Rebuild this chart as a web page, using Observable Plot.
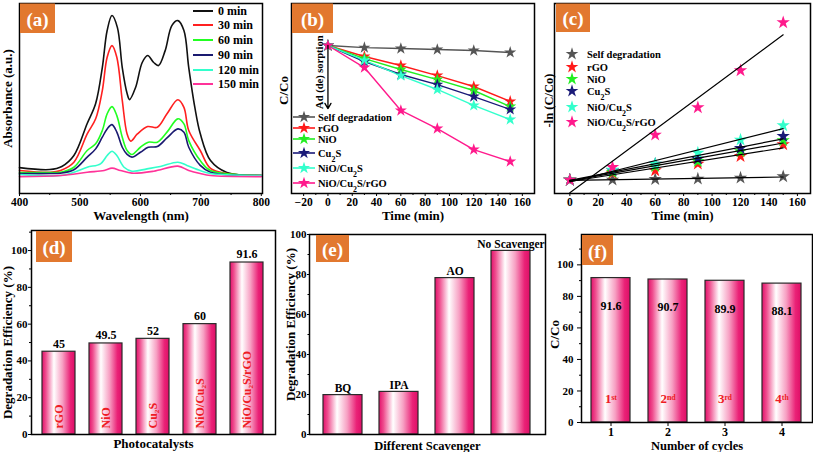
<!DOCTYPE html>
<html><head><meta charset="utf-8">
<script src="https://cdn.jsdelivr.net/npm/d3@7"></script>
<script src="https://cdn.jsdelivr.net/npm/@observablehq/plot@0.6"></script>
<style>
html,body{margin:0;padding:0;background:#fff;}
#root{position:relative;width:813px;height:452px;overflow:hidden;background:#fff;}
.panel{position:absolute;}
</style></head><body>
<svg width="0" height="0" style="position:absolute">
<defs><linearGradient id="barGrad" x1="0" x2="1" y1="0" y2="0">
<stop offset="0" stop-color="#e3106b"/>
<stop offset="0.12" stop-color="#ef4f8f"/>
<stop offset="0.36" stop-color="#ffffff"/>
<stop offset="0.62" stop-color="#f7a0c3"/>
<stop offset="0.86" stop-color="#ea2277"/>
<stop offset="1" stop-color="#de0e66"/>
</linearGradient></defs></svg>
<div id="root"></div>
<script>
// ---------- DATA ----------
// (a) UV-vis spectra: [wavelength nm, absorbance a.u.]
const spectraTimes = ["0 min","30 min","60 min","90 min","120 min","150 min"];
const spectraColors = ["#111111","#ff2020","#22ff22","#1a1a70","#33ffcc","#ff3399"];
const spec0 = [[400,0.144],[450,0.133],[470,0.150],[490,0.211],[512,0.389],[526,0.50],[537,0.70],[545,0.906],[553,0.989],[562,0.922],[570,0.70],[578,0.556],[582,0.522],[592,0.589],[603,0.728],[612,0.767],[622,0.728],[630,0.711],[641,0.794],[652,0.933],[662,0.961],[672,0.906],[680,0.70],[690,0.48],[699,0.333],[716,0.183],[743,0.117],[800,0.10]];
const spec30 = [[400,0.128],[451,0.118],[468,0.128],[490,0.174],[512,0.331],[526,0.415],[537,0.572],[545,0.757],[553,0.822],[561,0.757],[570,0.517],[578,0.331],[584,0.291],[595,0.331],[612,0.372],[628,0.368],[644,0.443],[662,0.521],[672,0.479],[680,0.35],[699,0.239],[716,0.139],[743,0.111],[800,0.10]];
const spec60 = [[400,0.117],[451,0.117],[468,0.118],[490,0.146],[512,0.239],[526,0.276],[537,0.35],[545,0.443],[553,0.483],[561,0.433],[570,0.313],[578,0.239],[586,0.217],[600,0.257],[613,0.285],[628,0.285],[644,0.341],[662,0.415],[672,0.387],[680,0.294],[699,0.183],[716,0.128],[800,0.10]];
const spec90 = [[400,0.111],[451,0.111],[468,0.113],[490,0.132],[512,0.202],[526,0.248],[537,0.313],[545,0.359],[553,0.383],[561,0.341],[570,0.257],[578,0.217],[586,0.202],[600,0.229],[613,0.257],[628,0.261],[644,0.309],[662,0.359],[672,0.341],[680,0.257],[699,0.156],[716,0.118],[800,0.10]];
const spec120 = [[400,0.106],[468,0.10],[490,0.118],[512,0.146],[534,0.165],[545,0.211],[553,0.235],[561,0.211],[573,0.146],[586,0.124],[611,0.137],[633,0.15],[662,0.174],[677,0.156],[699,0.128],[716,0.111],[800,0.10]];
const spec150 = [[400,0.094],[468,0.10],[512,0.118],[540,0.128],[553,0.141],[567,0.128],[586,0.113],[622,0.124],[662,0.152],[680,0.128],[699,0.111],[716,0.10],[800,0.094]];
const specSeries = [spec0, spec30, spec60, spec90, spec120, spec150];
const wavelengthTicks = [400,500,600,700,800];

// (b), (c) kinetics
const kineticTimes = [0,30,60,90,120,150];
const catalysts = ["Self degradation","rGO","NiO","Cu2S","NiO/Cu2S","NiO/Cu2S/rGO"];
const catalystColors = ["#555555","#ff1a1a","#22ee22","#1a1a78","#33ffcc","#ff1a8c"];
const ccoSelf   = [1.0,0.986,0.980,0.973,0.966,0.953];
const ccoRGO    = [1.0,0.926,0.865,0.797,0.723,0.622];
const ccoNiO    = [1.0,0.912,0.838,0.770,0.696,0.588];
const ccoCu2S   = [1.0,0.892,0.804,0.736,0.655,0.568];
const ccoNiOCu2S = [1.0,0.899,0.797,0.703,0.595,0.500];
const ccoTernary = [1.0,0.851,0.561,0.439,0.297,0.216];
const lnSelf   = [0,0.002,0.008,0.012,0.022,0.035];
const lnRGO    = [0,0.068,0.095,0.162,0.238,0.355];
const lnNiO    = [0,0.078,0.138,0.188,0.285,0.395];
const lnCu2S   = [0,0.095,0.160,0.212,0.318,0.438];
const lnNiOCu2S = [0,0.102,0.162,0.272,0.402,0.545];
const lnTernary = [0,0.128,0.452,0.725,1.095,1.575];
const timeTicks = [-20,0,20,40,60,80,100,120,140,160];
const timeTicksC = [0,20,40,60,80,100,120,140,160];
const sorptionArrow = [{t:0, from:1.0, to:0.574, mid:0.82, label:"Ad (de) sorption"}];

// (d) efficiency
const effCatalysts = ["rGO","NiO","Cu₂S","NiO/Cu₂S","NiO/Cu₂S/rGO"];
const effValues = [45,49.5,52,60,93.5];
const effLabels = ["45","49.5","52","60","91.6"];
// (e) scavengers
const scavengers = ["BQ","IPA","AO","No Scavenger"];
const scavValues = [19.7,21.3,78.2,91.8];
// (f) cycles
const cycles = [1,2,3,4];
const cycleValues = [91.6,90.7,89.9,88.1];
const cycleOrdinals = ["1ˢᵗ","2ⁿᵈ","3ʳᵈ","4ᵗʰ"];
const pctTicks = [0,20,40,60,80,100];

// ---------- HELPERS ----------
const FONT = "'Liberation Serif','Times New Roman',serif";
const baseStyle = {fontFamily: FONT, fontWeight: "bold", fontSize: "12px", background: "none", overflow: "visible", color: "#000"};
const root = document.getElementById("root");
function place(plot, left, top) {
  const d = document.createElement("div");
  d.className = "panel"; d.style.left = left + "px"; d.style.top = top + "px";
  d.appendChild(plot); root.appendChild(d);
}
function badge(label, x, y, w, h) {
  return () => {
    const g = d3.create("svg:g");
    g.append("rect").attr("x", x).attr("y", y).attr("width", w).attr("height", h).attr("fill", "#e2782f");
    g.append("text").attr("x", x + w / 2).attr("y", y + h / 2 + 1).attr("text-anchor", "middle")
      .attr("dominant-baseline", "central").attr("fill", "#fff").attr("font-size", 19)
      .attr("font-weight", "bold").attr("font-family", FONT).text(label);
    return g.node();
  };
}
function richText(t, s) {
  s.split(/(Cu2)/).forEach(p => {
    if (p === "Cu2") { t.append("tspan").text("Cu"); t.append("tspan").attr("baseline-shift", "sub").attr("font-size", "75%").text("2"); }
    else if (p) t.append("tspan").text(p);
  });
}
function legend(labels, colors, o) {
  return () => {
    const g = d3.create("svg:g").attr("font-size", o.fontSize).attr("font-weight", "bold").attr("font-family", FONT).attr("text-anchor", "start");
    labels.forEach((lab, i) => {
      const y = o.ys[i];
      if (o.line) g.append("line").attr("x1", o.x0).attr("x2", o.x1).attr("y1", y).attr("y2", y).attr("stroke", colors[i]).attr("stroke-width", o.lw || 2);
      if (o.star) g.append("path").attr("transform", `translate(${o.starX},${y})`).attr("d", d3.symbol(d3.symbolStar, o.r * o.r * Math.PI)()).attr("fill", colors[i]);
      const t = g.append("text").attr("x", o.textX).attr("y", y).attr("dy", "0.35em").attr("text-anchor", "start");
      richText(t, lab);
    });
    return g.node();
  };
}
const frame = () => Plot.frame({stroke: "#000", strokeWidth: 1.5});
const xTitle = (s, dy, fs = 13) => Plot.text([s], {text: d => d, frameAnchor: "bottom", dy, lineAnchor: "middle", textAnchor: "middle", fontSize: fs});
const yTitle = (s, dx, fs = 13, dy = 0) => Plot.text([s], {text: d => d, frameAnchor: "left", dx, dy, rotate: -90, lineAnchor: "middle", textAnchor: "middle", fontSize: fs});

// ---------- (a) ----------
const specData = spectraTimes.flatMap((name, i) => specSeries[i].map(([wl, a]) => ({name, wl, a})));
place(Plot.plot({
  width: 270, height: 222, marginLeft: 19, marginRight: 8, marginTop: 3, marginBottom: 29,
  style: baseStyle,
  x: {domain: [400, 802]},
  y: {domain: [0, 1.056], axis: null},
  color: {domain: spectraTimes, range: spectraColors},
  marks: [
    Plot.line(specData, {x: "wl", y: "a", z: "name", stroke: "name", curve: "catmull-rom", strokeWidth: 1.6}),
    frame(),
    Plot.axisX({ticks: wavelengthTicks, tickSize: 3, tickPadding: 1, label: null, fontSize: 11.5}),
    Plot.axisX({ticks: [450,550,650,750], tickSize: 2, tickFormat: () => "", label: null}),
    xTitle("Wavelength (nm)", 22.5),
    yTitle("Absorbance (a.u.)", -12),
    legend(spectraTimes, spectraColors, {line: true, x0: 193, x1: 213, textX: 218, ys: [11,25,40,55,70,84], fontSize: 12}),
    badge("(a)", 20, 3.5, 35, 29.5)
  ]
}), 0, 0);

// ---------- (b) ----------
const ccoSeries = [ccoSelf, ccoRGO, ccoNiO, ccoCu2S, ccoNiOCu2S, ccoTernary];
const kinData = catalysts.flatMap((name, i) => kineticTimes.map((t, j) => ({name, t, c: ccoSeries[i][j]})));
place(Plot.plot({
  width: 270, height: 222, marginLeft: 21, marginRight: 6, marginTop: 3, marginBottom: 29,
  style: baseStyle,
  x: {domain: [-30, 170]},
  y: {domain: [0, 1.284], axis: null},
  color: {domain: catalysts, range: catalystColors},
  marks: [
    Plot.line(kinData, {x: "t", y: "c", z: "name", stroke: "name", strokeWidth: 1.4}),
    Plot.dot(kinData, {x: "t", y: "c", fill: "name", symbol: "star", r: 3.8}),
    Plot.arrow(sorptionArrow, {x1: "t", x2: "t", y1: "from", y2: "to", stroke: "#000", strokeWidth: 1.3, headLength: 7}),
    Plot.text(sorptionArrow, {x: "t", y: "mid", text: "label", rotate: -90, dx: -8, fontSize: 10.5}),
    frame(),
    Plot.axisX({ticks: timeTicks, tickSize: 3, tickPadding: 1, label: null, fontSize: 11.5}),
    Plot.axisX({ticks: [-10,10,30,50,70,90,110,130,150], tickSize: 2, tickFormat: () => "", label: null}),
    xTitle("Time (min)", 22.5),
    yTitle("C/Co", -8, 13, -8),
    legend(catalysts, catalystColors, {line: true, star: true, x0: 23, x1: 45, starX: 34, r: 3.8, textX: 48, lw: 1.6, ys: [117,128,139,153,168,183], fontSize: 10.5}),
    badge("(b)", 22, 3.5, 41, 29.5)
  ]
}), 270, 0);

// ---------- (c) ----------
const lnSeries = [lnSelf, lnRGO, lnNiO, lnCu2S, lnNiOCu2S, lnTernary];
const lnData = catalysts.flatMap((name, i) => kineticTimes.map((t, j) => ({name, t, v: lnSeries[i][j]})));
place(Plot.plot({
  width: 273, height: 222, marginLeft: 14, marginRight: 3, marginTop: 3, marginBottom: 29,
  style: baseStyle,
  x: {domain: [-10.8, 169.2]},
  y: {domain: [-0.135, 1.765], axis: null},
  color: {domain: catalysts, range: catalystColors},
  marks: [
    Plot.dot(lnData, {x: "t", y: "v", fill: "name", symbol: "star", r: 4.2}),
    Plot.linearRegressionY(lnData, {x: "t", y: "v", z: "name", stroke: "#000", strokeWidth: 1.2, ci: 0}),
    frame(),
    Plot.axisX({ticks: timeTicksC, tickSize: 3, tickPadding: 1, label: null, fontSize: 11.5}),
    Plot.axisX({ticks: [10,30,50,70,90,110,130,150], tickSize: 2, tickFormat: () => "", label: null}),
    xTitle("Time (min)", 22.5),
    yTitle("-ln (C/Co)", -6, 12.5, 2),
    legend(catalysts, catalystColors, {star: true, starX: 32, r: 4, textX: 47, ys: [54,67,79,91,107,122], fontSize: 10.5}),
    badge("(c)", 16, 3.5, 34, 28.5)
  ]
}), 540, 0);

// ---------- (d) ----------
const effData = effCatalysts.map((name, i) => ({name, value: effValues[i], label: effLabels[i]}));
place(Plot.plot({
  width: 280, height: 230, marginLeft: 31, marginRight: 5, marginTop: 8, marginBottom: 18,
  style: baseStyle,
  x: {type: "band", domain: effCatalysts, paddingInner: 0.29, paddingOuter: 0.19, axis: null},
  y: {domain: [0, 110.9], axis: null},
  marks: [
    Plot.barY(effData, {x: "name", y: "value", fill: "url(#barGrad)", stroke: "#2a2a2a", strokeWidth: 1.2}),
    Plot.text(effData, {x: "name", y: "value", text: "label", dy: -8, fontSize: 12}),
    Plot.text(effData, {x: "name", y: 0, text: "name", rotate: -90, textAnchor: "start", dy: -6, fill: "#ee1c25", fontSize: 12}),
    frame(),
    Plot.axisY({ticks: pctTicks, tickSize: 3, tickPadding: 1, label: null, fontSize: 11}),
    Plot.axisY({ticks: [10,30,50,70,90,110], tickSize: 2, tickFormat: () => "", label: null}),
    xTitle("Photocatalysts", 9),
    yTitle("Degradation Efficiency (%)", -24, 13, 10),
    badge("(d)", 36, 9, 36, 31)
  ]
}), 0, 222);

// ---------- (e) ----------
const scavData = scavengers.map((name, i) => ({name, value: scavValues[i]}));
place(Plot.plot({
  width: 268, height: 230, marginLeft: 29, marginRight: 3, marginTop: 12, marginBottom: 18,
  style: baseStyle,
  x: {type: "band", domain: scavengers, paddingInner: 0.3, paddingOuter: 0.23, axis: null},
  y: {domain: [0, 100], axis: null},
  marks: [
    Plot.barY(scavData, {x: "name", y: "value", fill: "url(#barGrad)", stroke: "#2a2a2a", strokeWidth: 1.2}),
    Plot.text(scavData, {x: "name", y: "value", text: "name", dy: -7, fontSize: 11.5}),
    frame(),
    Plot.axisY({ticks: pctTicks, tickSize: 2, tickPadding: 1, label: null, fontSize: 11}),
    Plot.axisY({ticks: [10,30,50,70,90], tickSize: 1.5, tickFormat: () => "", label: null}),
    xTitle("Different Scavenger", 11, 12.5),
    yTitle("Degradation Efficiency (%)", -19, 13, -10),
    badge("(e)", 36, 13, 33, 27)
  ]
}), 280, 222);

// ---------- (f) ----------
const cycData = cycles.map((c, i) => ({c, value: cycleValues[i], ord: cycleOrdinals[i]}));
place(Plot.plot({
  width: 268, height: 230, marginLeft: 36, marginRight: 1, marginTop: 12, marginBottom: 30,
  style: baseStyle,
  x: {type: "band", domain: cycles, paddingInner: 0.31, paddingOuter: 0.155, axis: null},
  y: {domain: [0, 119.25], axis: null},
  marks: [
    Plot.barY(cycData, {x: "c", y: "value", fill: "url(#barGrad)", stroke: "#2a2a2a", strokeWidth: 1.2}),
    Plot.text(cycData, {x: "c", y: "value", text: d => String(d.value), dy: 28, fontSize: 12}),
    Plot.text(cycData, {x: "c", y: 0, text: "ord", dy: -24, fill: "#ee1c25", fontSize: 13}),
    frame(),
    Plot.axisX({tickSize: 4, tickPadding: 1, label: null, fontSize: 12}),
    Plot.axisY({ticks: pctTicks, tickSize: 4, tickPadding: 4, label: null, fontSize: 11}),
    Plot.axisY({ticks: [10,30,50,70,90,110], tickSize: 2, tickFormat: () => "", label: null}),
    xTitle("Number of cycles", 23, 12.5),
    yTitle("C/Co", -27, 13, 6),
    badge("(f)", 37, 13, 31, 30)
  ]
}), 545, 222);
</script>
</body></html>
